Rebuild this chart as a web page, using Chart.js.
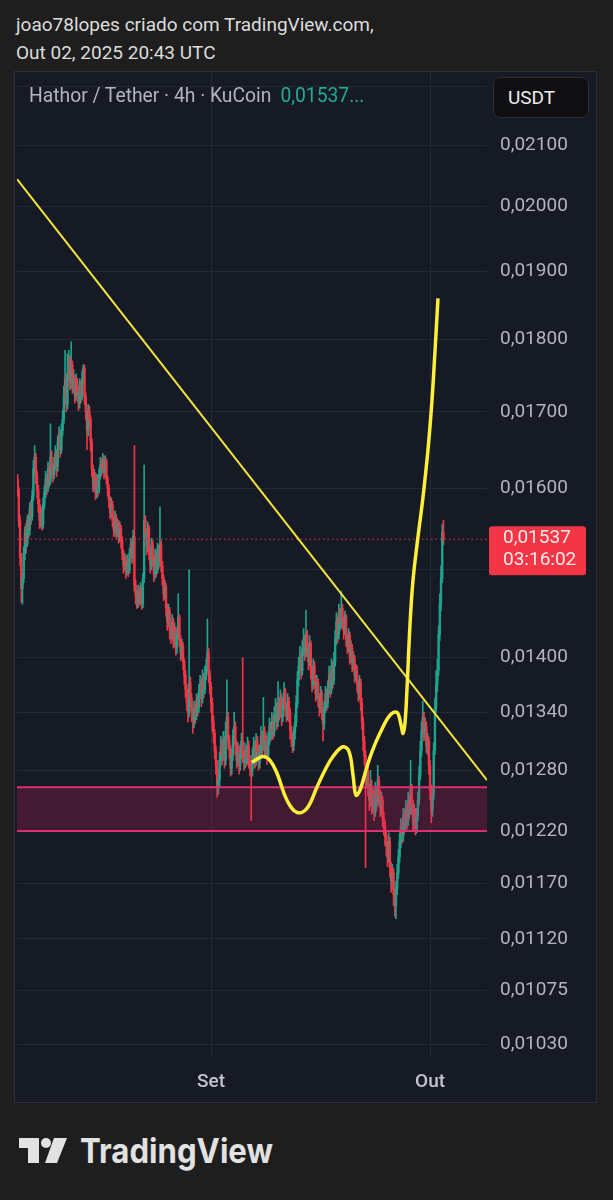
<!DOCTYPE html>
<html>
<head>
<meta charset="utf-8">
<script src="https://cdn.jsdelivr.net/npm/chart.js@4.4.0/dist/chart.umd.min.js"></script>
<style>
html, body { margin: 0; padding: 0; background: #1e1e1e; }
body { width: 613px; height: 1200px; position: relative; overflow: hidden; font-family: Roboto, "Noto Sans", sans-serif; }
#hdr { position: absolute; left: 16px; top: 11px; color: #dcdcdc; font-size: 19px; line-height: 28px; }
#panel { position: absolute; left: 14px; top: 71px; width: 581px; height: 1030px; border: 1px solid #2a2e39; background: #161a25; }
#c { position: absolute; left: 0; top: 0; }
#legend { position: absolute; left: 29px; top: 84px; font-size: 19.3px; line-height: 24px; color: #b2b5be; white-space: nowrap; }
#legend .v { color: #22ab94; margin-left: 9px; }
#usdt { position: absolute; left: 493px; top: 77px; width: 94px; height: 39px; background: #0f0f11; border: 1px solid #2e2f33; border-radius: 7px; color: #eeeeee; font-size: 19px; line-height: 39px; text-indent: 14px; }
#logo { position: absolute; left: 19px; top: 1134px; }
</style>
</head>
<body>
<div id="hdr">joao78lopes criado com TradingView.com,<br>Out 02, 2025 20:43 UTC</div>
<div id="panel"><canvas id="c" width="581" height="1030"></canvas></div>
<div id="legend">Hathor / Tether · 4h · KuCoin<span class="v" id="lv"></span></div>
<div id="usdt">USDT</div>
<svg id="logo" width="270" height="42" viewBox="0 0 270 42">
  <path d="M0 4 H20 V29 H9 V14 H0 Z" fill="#e2e2e2"/>
  <circle cx="27" cy="9" r="5" fill="#e2e2e2"/>
  <path d="M35 4 H48 L38 29 H26 Z" fill="#e2e2e2"/>
  <text x="61" y="29" font-family="Inter, 'Open Sans', sans-serif" font-weight="700" font-size="34" fill="#e2e2e2" textLength="193" lengthAdjust="spacingAndGlyphs">TradingView</text>
</svg>
<script>
// prices in units of 0.00001 USDT, 4h candles from Aug 5 12:00 to Oct 2 20:00
const firstOpen = 1612;
const closes = [
  1598,1560,1515,1478,1490,1520,1545,1532,1560,1548,
  1575,1565,1590,1625,1640,1615,1598,1580,1560,1570,
  1555,1580,1595,1612,1600,1625,1610,1640,1625,1618,
  1630,1645,1628,1660,1670,1650,1675,1690,1720,1745,
  1710,1750,1772,1740,1765,1735,1745,1722,1740,1728,
  1712,1735,1722,1745,1760,1720,1700,1675,1700,1690,
  1660,1625,1605,1615,1595,1610,1600,1618,1630,1625,
  1638,1620,1635,1612,1600,1585,1570,1580,1560,1548,
  1565,1545,1555,1540,1550,1535,1520,1505,1512,1498,
  1510,1500,1520,1530,1515,1540,1482,1470,1462,1475,
  1465,1478,1460,1490,1560,1545,1528,1550,1520,1505,
  1530,1512,1495,1518,1500,1525,1510,1530,1505,1490,
  1472,1480,1455,1440,1452,1430,1425,1440,1418,1430,
  1410,1425,1445,1420,1405,1412,1395,1380,1365,1350,
  1340,1372,1355,1340,1330,1345,1338,1352,1345,1362,
  1370,1355,1378,1365,1382,1390,1405,1380,1368,1350,
  1330,1318,1300,1285,1262,1270,1290,1305,1295,1310,
  1290,1320,1335,1310,1300,1282,1295,1315,1325,1305,
  1290,1300,1285,1298,1310,1295,1288,1300,1292,1305,
  1290,1282,1280,1295,1305,1290,1310,1300,1288,1298,
  1315,1305,1320,1300,1310,1295,1312,1325,1318,1330,
  1320,1338,1345,1330,1350,1340,1355,1335,1348,1362,
  1345,1338,1352,1340,1320,1312,1305,1318,1330,1350,
  1375,1390,1400,1385,1410,1420,1405,1425,1410,1395,
  1415,1385,1370,1390,1375,1360,1372,1355,1345,1360,
  1340,1328,1345,1360,1350,1365,1380,1365,1390,1375,
  1395,1420,1440,1425,1450,1438,1455,1440,1430,1445,
  1420,1412,1425,1400,1410,1392,1398,1380,1385,1370,
  1360,1372,1350,1330,1310,1295,1270,1280,1262,1250,
  1265,1245,1255,1238,1260,1248,1270,1255,1242,1250,
  1232,1225,1215,1205,1195,1210,1185,1172,1180,1160,
  1150,1165,1180,1195,1210,1225,1215,1235,1225,1242,
  1230,1250,1240,1262,1245,1228,1238,1222,1235,1250,
  1275,1300,1320,1335,1318,1325,1305,1310,1285,1260,
  1240,1255,1300,1345,1370,1385,1425,1460,1490,1545,
  1537
];
const highs = [
  1618,1602,1566,1520,1496,1528,1552,1556,1566,1568,
  1582,1585,1598,1636,1655,1645,1622,1604,1586,1578,
  1575,1588,1603,1622,1618,1634,1630,1684,1648,1632,
  1640,1655,1650,1668,1680,1676,1684,1702,1735,1785,
  1752,1780,1785,1778,1797,1770,1758,1750,1752,1746,
  1734,1745,1742,1756,1765,1764,1726,1705,1710,1708,
  1695,1664,1630,1624,1620,1618,1616,1626,1640,1638,
  1645,1642,1642,1638,1616,1605,1590,1588,1584,1565,
  1572,1568,1562,1560,1558,1554,1540,1524,1520,1516,
  1518,1514,1526,1538,1534,1548,1655,1488,1476,1482,
  1480,1485,1482,1496,1630,1566,1550,1558,1554,1525,
  1538,1535,1516,1525,1522,1532,1530,1577,1535,1510,
  1494,1488,1484,1460,1460,1456,1436,1448,1444,1438,
  1434,1432,1472,1448,1424,1420,1416,1398,1385,1370,
  1356,1500,1378,1360,1345,1352,1350,1360,1358,1370,
  1380,1375,1386,1382,1390,1398,1443,1410,1385,1372,
  1355,1336,1322,1305,1290,1280,1298,1315,1312,1320,
  1315,1330,1375,1340,1316,1305,1302,1322,1340,1330,
  1310,1308,1305,1306,1318,1399,1300,1308,1305,1314,
  1310,1295,1290,1302,1314,1310,1318,1315,1305,1306,
  1325,1320,1356,1325,1318,1315,1320,1334,1330,1340,
  1336,1346,1355,1350,1373,1356,1364,1360,1356,1372,
  1366,1350,1360,1356,1344,1326,1318,1325,1338,1358,
  1384,1400,1412,1405,1418,1432,1425,1453,1430,1415,
  1424,1418,1390,1398,1395,1380,1380,1376,1360,1368,
  1364,1345,1352,1368,1365,1374,1390,1385,1398,1395,
  1405,1430,1450,1445,1460,1455,1475,1460,1445,1452,
  1448,1425,1432,1428,1418,1414,1406,1402,1392,1390,
  1375,1380,1376,1355,1335,1315,1300,1288,1285,1266,
  1280,1270,1262,1260,1268,1264,1285,1274,1260,1258,
  1254,1238,1230,1220,1210,1218,1214,1190,1188,1184,
  1165,1172,1188,1202,1218,1232,1230,1242,1240,1250,
  1246,1258,1255,1290,1266,1250,1246,1242,1242,1258,
  1284,1310,1330,1352,1340,1334,1330,1318,1314,1290,
  1265,1262,1308,1355,1385,1398,1435,1472,1505,1555,
  1560
];
const lows = [
  1590,1552,1505,1462,1460,1485,1512,1520,1528,1538,
  1542,1555,1560,1585,1618,1606,1588,1570,1550,1552,
  1548,1550,1574,1588,1592,1596,1602,1605,1616,1608,
  1612,1624,1615,1622,1652,1640,1645,1668,1684,1712,
  1700,1704,1742,1730,1732,1725,1726,1712,1715,1718,
  1702,1705,1712,1716,1738,1710,1690,1650,1668,1680,
  1648,1615,1596,1598,1586,1588,1590,1594,1612,1616,
  1620,1612,1615,1605,1590,1576,1562,1564,1552,1540,
  1542,1538,1540,1532,1534,1526,1512,1496,1500,1490,
  1494,1492,1496,1515,1508,1510,1475,1460,1455,1456,
  1458,1460,1454,1456,1485,1538,1518,1522,1512,1496,
  1500,1504,1486,1490,1492,1496,1502,1505,1498,1482,
  1464,1466,1446,1430,1434,1420,1415,1420,1410,1412,
  1402,1404,1420,1412,1396,1398,1386,1370,1356,1342,
  1330,1335,1346,1330,1318,1324,1328,1332,1336,1340,
  1355,1346,1350,1356,1360,1375,1384,1372,1360,1340,
  1320,1308,1292,1276,1253,1256,1264,1284,1286,1290,
  1282,1285,1314,1302,1292,1274,1276,1290,1308,1296,
  1282,1284,1276,1280,1292,1288,1280,1282,1284,1286,
  1282,1274,1230,1274,1288,1282,1285,1292,1280,1282,
  1292,1296,1300,1292,1294,1286,1290,1306,1310,1312,
  1312,1315,1330,1322,1325,1332,1335,1326,1330,1342,
  1336,1330,1332,1330,1312,1304,1298,1300,1312,1325,
  1345,1368,1382,1376,1380,1402,1396,1400,1402,1386,
  1390,1376,1362,1365,1366,1352,1354,1346,1336,1340,
  1332,1310,1322,1340,1342,1345,1360,1356,1360,1366,
  1370,1390,1414,1416,1420,1430,1432,1432,1420,1425,
  1412,1404,1406,1392,1394,1384,1386,1372,1374,1362,
  1352,1354,1342,1322,1300,1286,1185,1262,1254,1240,
  1244,1236,1238,1230,1234,1240,1244,1246,1234,1236,
  1224,1216,1206,1196,1186,1190,1176,1162,1165,1150,
  1140,1138,1160,1175,1190,1204,1208,1210,1218,1220,
  1222,1225,1232,1236,1236,1220,1222,1216,1218,1230,
  1245,1270,1294,1314,1310,1312,1298,1296,1276,1250,
  1228,1234,1250,1296,1340,1362,1380,1418,1452,1485,
  1530
];

// price axis ticks (same units) and time ticks (candle index)
const yTicks = [1030, 1075, 1120, 1170, 1220, 1280, 1340, 1400, 1500, 1600, 1700, 1800, 1900, 2000, 2100, 2200];
const yHidden = [1500, 2200];
const xTickIdx = [159, 339];
const xTickLabels = ['Set', 'Out'];

// drawings
const trendX = [-0.5, 385.8];
const trendY = [2044, 1270];
const zoneTop = 1263;
const zoneBottom = 1220;
const curveX = [192.6, 201.7, 207.4, 213.2, 221.4, 229.6, 237.8, 246.0, 252.6, 259.2, 267.4, 272.4, 275.7, 278.1, 281.4, 286.3, 291.3, 297.8, 306.1, 311.8, 315.1, 316.8, 318.4, 320.0, 322.5, 325.0, 329.1, 333.2, 337.3, 340.6, 343.1, 345.5];
const curveY = [1288, 1294, 1290, 1277, 1250, 1238, 1242, 1263, 1280, 1294, 1304, 1299, 1275, 1255, 1260, 1280, 1299, 1318, 1337, 1340, 1327, 1318, 1329, 1364, 1436, 1488, 1540, 1589, 1650, 1716, 1785, 1860];
const countdown = '03:16:02';

const xMin = -0.5, xMax = 385.8;
const upCol = '#1ea38c', downCol = '#f23645';
const gridCol = '#252935';

const fmt = v => '0,' + String(Math.round(v)).padStart(5, '0');
const candles = closes.map((c, i) => ({ x: i, o: i === 0 ? firstOpen : closes[i - 1], h: highs[i], l: lows[i], c }));
const colors = candles.map(k => (k.c >= k.o ? upCol : downCol));
const lastClose = closes[closes.length - 1];
document.getElementById('lv').textContent = fmt(lastClose) + '...';

const flat = (v) => [{ x: xMin, y: v }, { x: xMax, y: v }];

const priceLabel = {
  id: 'priceLabel',
  afterDraw(chart) {
    const { ctx, chartArea, scales } = chart;
    const y = scales.y.getPixelForValue(lastClose);
    const x0 = chartArea.right + 2;
    ctx.save();
    ctx.fillStyle = downCol;
    ctx.beginPath();
    ctx.roundRect(x0, y - 13, 97, 49, 3);
    ctx.fill();
    ctx.fillStyle = '#fde9eb';
    ctx.font = '19px Roboto';
    ctx.textBaseline = 'middle';
    ctx.fillText(fmt(lastClose), x0 + 14, y - 1);
    ctx.fillText(countdown, x0 + 14, y + 21);
    ctx.restore();
  }
};

new Chart(document.getElementById('c'), {
  type: 'bar',
  data: {
    datasets: [
      { type: 'line', data: curveX.map((x, i) => ({ x, y: curveY[i] })), borderColor: '#ffee3a', borderWidth: 3.5, pointRadius: 0, tension: 0.4, order: 0 },
      { type: 'line', data: trendX.map((x, i) => ({ x, y: trendY[i] })), borderColor: '#f2e43c', borderWidth: 2, pointRadius: 0, order: 1 },
      { type: 'line', data: flat(zoneTop), borderColor: '#df3270', borderWidth: 2, pointRadius: 0, fill: '+1', backgroundColor: 'rgba(233,30,99,0.21)', order: 2 },
      { type: 'line', data: flat(zoneBottom), borderColor: '#df3270', borderWidth: 2, pointRadius: 0, order: 2 },
      { type: 'line', data: flat(lastClose), borderColor: downCol, borderWidth: 1, borderDash: [1.5, 3], pointRadius: 0, order: 3 },
      { data: candles.map(k => ({ x: k.x, y: [k.o, k.c] })), backgroundColor: colors, barThickness: 1.7, minBarLength: 1, grouped: false, order: 4 },
      { data: candles.map(k => ({ x: k.x, y: [k.l, k.h] })), backgroundColor: colors, barThickness: 1, grouped: false, order: 5 }
    ]
  },
  options: {
    responsive: false,
    animation: false,
    events: [],
    layout: { autoPadding: false, padding: { left: 2, top: 0, right: 0, bottom: 0 } },
    plugins: { legend: { display: false }, tooltip: { enabled: false } },
    scales: {
      x: {
        type: 'linear', min: xMin, max: xMax, offset: false,
        grid: { color: gridCol, drawTicks: false, offset: false },
        border: { display: false },
        afterBuildTicks: s => { s.ticks = xTickIdx.map(v => ({ value: v })); },
        afterFit: s => { s.height = 45; s.paddingLeft = 0; s.paddingRight = 0; },
        ticks: {
          autoSkip: false, maxRotation: 0, padding: 14, color: '#c3c6ce',
          font: { family: 'Roboto', size: 19, weight: '500' },
          callback: v => xTickLabels[xTickIdx.indexOf(v)]
        }
      },
      y: {
        type: 'logarithmic', position: 'right', min: 1020, max: 2225,
        grid: { color: gridCol, drawTicks: false },
        border: { display: false },
        afterBuildTicks: s => { s.ticks = yTicks.map(v => ({ value: v })); },
        afterFit: s => { s.width = 109; s.paddingTop = 0; s.paddingBottom = 0; },
        ticks: {
          autoSkip: false, padding: 13, color: '#b2b5be',
          font: { family: 'Roboto', size: 19 },
          callback: v => (yHidden.includes(v) ? '' : fmt(v))
        }
      }
    }
  },
  plugins: [priceLabel]
});
</script>
</body>
</html>
